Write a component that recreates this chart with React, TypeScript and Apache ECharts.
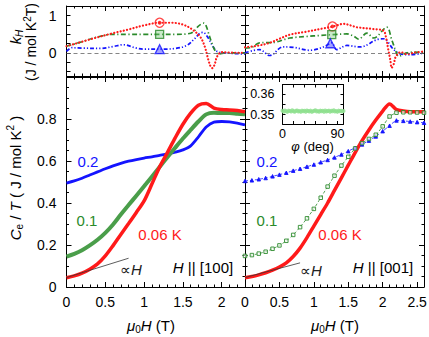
import React, { useEffect, useRef } from 'react';
import * as echarts from 'echarts';

const FONT = "'Liberation Sans', Arial, sans-serif";

// ---------- data ----------
const H100 = [0, 0.1, 0.2, 0.3, 0.4, 0.5, 0.6, 0.7, 0.8, 0.9, 1.0, 1.1, 1.2, 1.3, 1.4, 1.5, 1.6, 1.7, 1.8, 1.9, 2.0, 2.1, 2.2, 2.3];
const H001 = [0, 0.1, 0.2, 0.3, 0.4, 0.5, 0.6, 0.7, 0.8, 0.9, 1.0, 1.1, 1.2, 1.3, 1.4, 1.5, 1.6, 1.7, 1.8, 1.9, 2.0, 2.1, 2.2, 2.3, 2.4, 2.5, 2.6];

const cRed100 = [0.044, 0.053, 0.066, 0.085, 0.11, 0.148, 0.197, 0.25, 0.302, 0.355, 0.41, 0.49, 0.572, 0.64, 0.71, 0.775, 0.828, 0.866, 0.874, 0.852, 0.845, 0.843, 0.84, 0.835];
const cGreen100 = [0.145, 0.158, 0.175, 0.198, 0.225, 0.258, 0.298, 0.345, 0.39, 0.435, 0.48, 0.525, 0.572, 0.618, 0.663, 0.707, 0.748, 0.788, 0.822, 0.83, 0.828, 0.828, 0.825, 0.822];
const cBlue100 = [0.495, 0.505, 0.518, 0.533, 0.548, 0.563, 0.577, 0.589, 0.599, 0.607, 0.614, 0.62, 0.627, 0.634, 0.642, 0.653, 0.672, 0.715, 0.762, 0.785, 0.788, 0.786, 0.78, 0.772];

const cRed001 = [0.044, 0.05, 0.058, 0.068, 0.08, 0.095, 0.115, 0.145, 0.185, 0.235, 0.29, 0.345, 0.4, 0.46, 0.52, 0.58, 0.64, 0.697, 0.748, 0.795, 0.838, 0.872, 0.845, 0.838, 0.835, 0.835, 0.834];
const cGreen001 = [0.148, 0.152, 0.159, 0.168, 0.182, 0.198, 0.22, 0.248, 0.285, 0.327, 0.372, 0.425, 0.478, 0.53, 0.578, 0.62, 0.66, 0.685, 0.705, 0.725, 0.765, 0.812, 0.83, 0.832, 0.832, 0.831, 0.83];
const cBlue001 = [0.505, 0.508, 0.513, 0.519, 0.527, 0.535, 0.544, 0.554, 0.563, 0.573, 0.583, 0.594, 0.605, 0.617, 0.631, 0.647, 0.663, 0.679, 0.697, 0.717, 0.742, 0.768, 0.793, 0.791, 0.788, 0.785, 0.782];

const kRed100 = [[0, 0.18], [0.1, 0.24], [0.2, 0.3], [0.4, 0.42], [0.6, 0.53], [0.8, 0.63], [1.0, 0.74], [1.2, 0.81], [1.35, 0.81], [1.42, 0.8], [1.5, 0.76], [1.6, 0.66], [1.72, 0.44], [1.78, 0.18], [1.83, -0.2], [1.86, -0.38], [1.88, -0.41], [1.91, -0.3], [1.94, -0.1], [2.0, 0.02], [2.1, 0.01], [2.2, 0], [2.3, 0]];
const kGreen100 = [[0, 0.18], [0.2, 0.3], [0.4, 0.43], [0.6, 0.5], [0.8, 0.5], [1.0, 0.5], [1.2, 0.5], [1.4, 0.5], [1.55, 0.51], [1.63, 0.56], [1.69, 0.7], [1.74, 0.78], [1.77, 0.8], [1.8, 0.72], [1.83, 0.53], [1.87, 0.28], [1.91, 0.08], [1.96, -0.03], [2.05, 0], [2.2, 0], [2.3, 0]];
const kBlue100 = [[0, 0.04], [0.07, 0.14], [0.2, 0.13], [0.43, 0.12], [0.6, 0.17], [0.73, 0.22], [0.9, 0.13], [1.0, 0.1], [1.2, 0.1], [1.4, 0.12], [1.55, 0.2], [1.65, 0.38], [1.72, 0.53], [1.76, 0.55], [1.82, 0.42], [1.88, 0.2], [1.94, 0.04], [2.05, 0], [2.2, -0.02], [2.3, -0.03]];

const kRed001 = [[0, 0.15], [0.2, 0.2], [0.36, 0.27], [0.5, 0.38], [0.65, 0.49], [0.89, 0.57], [1.14, 0.66], [1.3, 0.72], [1.43, 0.78], [1.55, 0.73], [1.62, 0.69], [1.87, 0.64], [2.01, 0.6], [2.05, 0.4], [2.08, 0.1], [2.11, -0.18], [2.13, -0.4], [2.16, -0.3], [2.19, -0.1], [2.26, 0.02], [2.35, -0.03], [2.45, 0], [2.6, 0.04]];
const kGreen001 = [[0, 0.13], [0.1, 0.15], [0.21, 0.27], [0.41, 0.28], [0.65, 0.4], [0.89, 0.44], [1.1, 0.47], [1.26, 0.49], [1.48, 0.51], [1.58, 0.45], [1.65, 0.37], [1.77, 0.53], [1.87, 0.4], [2.06, 0.69], [2.13, 0.36], [2.2, 0], [2.23, -0.09], [2.35, 0], [2.45, 0.02], [2.6, 0]];
const kBlue001 = [[0, 0], [0.21, 0.09], [0.36, -0.07], [0.55, 0.16], [0.7, 0.15], [0.94, 0.07], [1.14, 0.16], [1.26, 0.27], [1.33, 0.09], [1.48, 0.2], [1.67, 0.16], [1.92, 0.36], [2.01, 0.38], [2.16, 0.09], [2.26, -0.03], [2.4, -0.05], [2.6, 0]];

const markRed100 = [[1.2, 0.81]];
const markGreen100 = [[1.2, 0.5]];
const markBlue100 = [[1.2, 0.1]];
const markRed001 = [[1.27, 0.71]];
const markGreen001 = [[1.26, 0.49]];
const markBlue001 = [[1.24, 0.26]];

const prop100 = [[0, 0.045], [0.8, 0.137]];
const prop001 = [[0, 0.045], [0.8, 0.115]];

const insetPhi = [0, 2, 4, 6, 8, 10, 12, 14, 16, 18, 20, 22, 24, 26, 28, 30, 32, 34, 36, 38, 40, 42, 44, 46, 48, 50, 52, 54, 56, 58, 60, 62, 64, 66, 68, 70, 72, 74, 76, 78, 80, 82, 84, 86, 88, 90, 92, 94, 96, 98, 100];
const insetC = [0.3518, 0.3514, 0.352, 0.3516, 0.3513, 0.3519, 0.3517, 0.3515, 0.3521, 0.3516, 0.3514, 0.3518, 0.352, 0.3515, 0.3517, 0.3513, 0.3519, 0.3516, 0.3518, 0.3514, 0.352, 0.3517, 0.3515, 0.3519, 0.3513, 0.3516, 0.3518, 0.3521, 0.3515, 0.3517, 0.3514, 0.3519, 0.3516, 0.3518, 0.3513, 0.352, 0.3515, 0.3517, 0.3519, 0.3514, 0.3518, 0.3516, 0.3521, 0.3515, 0.3517, 0.3513, 0.3519, 0.3516, 0.3518, 0.3515, 0.3517];

// tick positions
const xMajor100 = [0, 0.5, 1, 1.5, 2];
const xMinor100 = [0.1, 0.2, 0.3, 0.4, 0.6, 0.7, 0.8, 0.9, 1.1, 1.2, 1.3, 1.4, 1.6, 1.7, 1.8, 1.9, 2.1, 2.2];
const xMajor001 = [0, 0.5, 1, 1.5, 2, 2.5];
const xMinor001 = [0.1, 0.2, 0.3, 0.4, 0.6, 0.7, 0.8, 0.9, 1.1, 1.2, 1.3, 1.4, 1.6, 1.7, 1.8, 1.9, 2.1, 2.2, 2.3, 2.4];
const kTicks = [-0.5, -0.25, 0, 0.25, 0.5, 0.75, 1, 1.25];
const kLabels = [0, 1];
const insetXTicks = [0, 18, 36, 54, 72, 90];
const insetXLabels = [0, 90];
const insetYTicks = [0.35, 0.355, 0.36];
const insetYLabels = [0.35, 0.36];

// ---------- helpers ----------
const BLACK = '#000';
const RED = '#ff1a1a';
const GREEN = '#2a8a2a';
const BLUE = '#1414ff';

const zip = (xs: number[], ys: number[]) => xs.map((x, i) => [x, ys[i]]);

function xAxesFor(grid: number, max: number, majors: number[], minors: number[], labels: boolean) {
  const base = { type: 'value', gridIndex: grid, min: 0, max, splitLine: { show: false } };
  const line = { show: true, onZero: false, lineStyle: { color: BLACK, width: 1 } };
  const lbl = { show: labels, customValues: majors, margin: 8, fontSize: 14, color: BLACK, fontFamily: FONT };
  return [
    { ...base, position: 'bottom', axisLine: line, axisTick: { show: true, inside: true, length: 5, customValues: majors, lineStyle: { color: BLACK } }, axisLabel: lbl },
    { ...base, position: 'bottom', axisLine: { show: false, onZero: false }, axisTick: { show: true, inside: true, length: 2.5, customValues: minors, lineStyle: { color: BLACK } }, axisLabel: { show: false } },
    { ...base, position: 'top', axisLine: line, axisTick: { show: true, inside: true, length: 5, customValues: majors, lineStyle: { color: BLACK } }, axisLabel: { show: false } },
    { ...base, position: 'top', axisLine: { show: false, onZero: false }, axisTick: { show: true, inside: true, length: 2.5, customValues: minors, lineStyle: { color: BLACK } }, axisLabel: { show: false } },
  ];
}

function yBottom(grid: number, labels: boolean) {
  const mk = (pos: string, lab: boolean) => ({
    type: 'value', gridIndex: grid, min: 0, max: 1, interval: 0.2, position: pos,
    axisLine: { show: true, onZero: false, lineStyle: { color: BLACK, width: 1 } },
    axisTick: { show: true, inside: true, length: 5, lineStyle: { color: BLACK } },
    minorTick: { show: true, splitNumber: 4, length: 2.5, lineStyle: { color: BLACK } },
    axisLabel: { show: lab, showMaxLabel: false, margin: 10, fontSize: 14, color: BLACK, fontFamily: FONT },
    splitLine: { show: false }, minorSplitLine: { show: false },
  });
  return [mk('left', labels), mk('right', false)];
}

function yTop(grid: number, labels: boolean) {
  const mk = (pos: string, lab: boolean) => ({
    type: 'value', gridIndex: grid, min: -0.62, max: 1.26, position: pos,
    axisLine: { show: true, onZero: false, lineStyle: { color: BLACK, width: 1 } },
    axisTick: { show: true, inside: true, length: 4, customValues: kTicks, lineStyle: { color: BLACK } },
    axisLabel: { show: lab, customValues: kLabels, margin: 10, fontSize: 14, color: BLACK, fontFamily: FONT },
    splitLine: { show: false },
  });
  return [mk('left', labels), mk('right', false)];
}

function kLine(data: number[][], grid: number, color: string, dash: number[], cap: string, width: number, zero: boolean) {
  const s: any = {
    type: 'line', xAxisIndex: grid * 4, yAxisIndex: grid * 2, data, smooth: 0.35, symbol: 'none',
    lineStyle: { color, width, type: dash, cap }, z: 3,
  };
  if (zero) {
    s.markLine = {
      silent: true, symbol: 'none', label: { show: false },
      lineStyle: { color: '#666', width: 0.8, type: [4, 3] },
      data: [{ yAxis: 0 }],
    };
  }
  return s;
}

function marker(data: number[][], grid: number, symbol: string, size: number, color: string, fill: string) {
  return {
    type: 'scatter', xAxisIndex: grid * 4, yAxisIndex: grid * 2, data, symbol, symbolSize: size,
    itemStyle: { color: fill, borderColor: color, borderWidth: 1.3 }, z: 5,
  };
}

function dense(data: number[][], grid: number, color: string, width: number) {
  return {
    type: 'line', xAxisIndex: grid * 4, yAxisIndex: grid * 2, data, smooth: 0.3, symbol: 'none',
    lineStyle: { color, width }, z: 3,
  };
}

function sparse(data: number[][], grid: number, color: string, symbol: string, size: number, fill: string) {
  return {
    type: 'line', xAxisIndex: grid * 4, yAxisIndex: grid * 2, data, smooth: 0.2, symbol, symbolSize: size,
    showSymbol: true, showAllSymbol: true,
    lineStyle: { color, width: 0.8, type: [3, 2] },
    itemStyle: { color: fill, borderColor: color, borderWidth: 0.9 }, z: 3,
  };
}

function richStyle(size: number, color: string) {
  const sub = Math.round(size * 0.68);
  return {
    n: { fontSize: size, fontFamily: FONT, fill: color, color, lineHeight: size + 4 },
    i: { fontSize: size, fontFamily: FONT, fontStyle: 'italic', fill: color, color, lineHeight: size + 4 },
    sub: { fontSize: sub, fontFamily: FONT, fill: color, color, verticalAlign: 'bottom', lineHeight: sub },
    isub: { fontSize: sub, fontFamily: FONT, fontStyle: 'italic', fill: color, color, verticalAlign: 'bottom', lineHeight: sub },
    sup: { fontSize: sub, fontFamily: FONT, fill: color, color, verticalAlign: 'top', lineHeight: sub },
  };
}

function txt(text: string, x: number, y: number, size: number, color: string, rotation = 0) {
  return {
    type: 'text', x, y, rotation, z: 10,
    style: {
      text, rich: richStyle(size, color), fill: color, fontSize: size, fontFamily: FONT,
      align: 'center', verticalAlign: 'middle', textAlign: 'center', textVerticalAlign: 'middle',
    },
  };
}

export default function App() {
  const ref = useRef<HTMLDivElement>(null);
  useEffect(() => {
    if (!ref.current) return;
    const chart = echarts.init(ref.current, undefined, { renderer: 'svg' });

    const grids = [
      { left: 66.5, top: 6, width: 178.5, height: 70 },
      { left: 245, top: 6, width: 179, height: 70 },
      { left: 66.5, top: 77, width: 178.5, height: 210 },
      { left: 245, top: 77, width: 179, height: 210 },
      { left: 282.5, top: 84.5, width: 61, height: 39.5 },
    ].map((g) => ({ ...g, containLabel: false, outerBoundsMode: 'none' }));

    const insetX = [
      { type: 'value', gridIndex: 4, min: 0, max: 100, position: 'bottom', splitLine: { show: false },
        axisLine: { show: true, onZero: false, lineStyle: { color: BLACK, width: 1 } },
        axisTick: { show: true, inside: true, length: 3, customValues: insetXTicks, lineStyle: { color: BLACK } },
        axisLabel: { show: true, customValues: insetXLabels, margin: 3, fontSize: 12.5, color: BLACK, fontFamily: FONT } },
      { type: 'value', gridIndex: 4, min: 0, max: 100, position: 'top', splitLine: { show: false },
        axisLine: { show: true, onZero: false, lineStyle: { color: BLACK, width: 1 } },
        axisTick: { show: true, inside: true, length: 3, customValues: insetXTicks, lineStyle: { color: BLACK } },
        axisLabel: { show: false } },
    ];
    const insetY = [
      { type: 'value', gridIndex: 4, min: 0.3454, max: 0.3646, position: 'left', splitLine: { show: false },
        axisLine: { show: true, onZero: false, lineStyle: { color: BLACK, width: 1 } },
        axisTick: { show: true, inside: true, length: 3, customValues: insetYTicks, lineStyle: { color: BLACK } },
        axisLabel: { show: true, customValues: insetYLabels, margin: 8, fontSize: 12.5, color: BLACK, fontFamily: FONT } },
      { type: 'value', gridIndex: 4, min: 0.3454, max: 0.3646, position: 'right', splitLine: { show: false },
        axisLine: { show: true, onZero: false, lineStyle: { color: BLACK, width: 1 } },
        axisTick: { show: true, inside: true, length: 3, customValues: insetYTicks, lineStyle: { color: BLACK } },
        axisLabel: { show: false } },
    ];

    const xAxis = [
      ...xAxesFor(0, 2.3, xMajor100, xMinor100, false),
      ...xAxesFor(1, 2.6, xMajor001, xMinor001, false),
      ...xAxesFor(2, 2.3, xMajor100, xMinor100, true),
      ...xAxesFor(3, 2.6, xMajor001, xMinor001, true),
      ...insetX,
    ];
    const yAxis = [...yTop(0, true), ...yTop(1, false), ...yBottom(2, true), ...yBottom(3, false), ...insetY];

    const series: any[] = [
      // top left
      kLine(kBlue100, 0, BLUE, [4, 2, 1.2, 2, 1.2, 2], 'butt', 1.7, false),
      kLine(kGreen100, 0, GREEN, [5, 2.5, 1.2, 2.5], 'butt', 1.7, false),
      kLine(kRed100, 0, RED, [0.1, 3.2], 'round', 2.2, true),
      marker(markRed100, 0, 'circle', 9, RED, 'rgba(255,255,255,0)'),
      marker(markRed100, 0, 'circle', 2.5, RED, RED),
      marker(markGreen100, 0, 'rect', 8, GREEN, 'rgba(120,200,120,0.5)'),
      marker(markBlue100, 0, 'triangle', 9, BLUE, 'rgba(60,60,255,0.6)'),
      // top right
      kLine(kBlue001, 1, BLUE, [4, 2, 1.2, 2, 1.2, 2], 'butt', 1.7, false),
      kLine(kGreen001, 1, GREEN, [5, 2.5, 1.2, 2.5], 'butt', 1.7, false),
      kLine(kRed001, 1, RED, [0.1, 3.2], 'round', 2.2, true),
      marker(markRed001, 1, 'circle', 9, RED, 'rgba(255,255,255,0)'),
      marker(markRed001, 1, 'circle', 2.5, RED, RED),
      marker(markGreen001, 1, 'rect', 8, GREEN, 'rgba(120,200,120,0.5)'),
      marker(markBlue001, 1, 'triangle', 9, BLUE, 'rgba(60,60,255,0.6)'),
      // bottom left
      dense(zip(H100, cBlue100), 2, BLUE, 2.8),
      dense(zip(H100, cGreen100), 2, '#4a9e4a', 4),
      dense(zip(H100, cRed100), 2, RED, 3.5),
      { type: 'line', xAxisIndex: 8, yAxisIndex: 4, data: prop100, symbol: 'none', lineStyle: { color: '#333', width: 0.8 }, z: 4 },
      // bottom right
      sparse(zip(H001, cBlue001), 3, BLUE, 'triangle', 3.5, BLUE),
      sparse(zip(H001, cGreen001), 3, '#2e8b2e', 'rect', 3.5, 'rgba(255,255,255,0.6)'),
      dense(zip(H001, cRed001), 3, RED, 3.5),
      { type: 'line', xAxisIndex: 12, yAxisIndex: 6, data: prop001, symbol: 'none', lineStyle: { color: '#333', width: 0.8 }, z: 4 },
      // inset
      { type: 'scatter', xAxisIndex: 16, yAxisIndex: 8, data: zip(insetPhi, insetC), symbol: 'circle', symbolSize: 4,
        itemStyle: { color: '#8fe08f' }, z: 3 },
    ];

    const graphic = [
      txt('{i|k}{isub|H}', 15, 37, 15, BLACK, Math.PI / 2),
      txt('{n|(J / mol K}{sup|2}{n|T)}', 31, 42, 14, BLACK, Math.PI / 2),
      txt('{i|C}{sub|e}{n| / }{i|T}{n| ( J / mol K}{sup|2}{n| )}', 15, 178, 15, BLACK, Math.PI / 2),
      txt('{i|μ}{sub|0}{i|H}{n| (T)}', 151, 325, 15, BLACK),
      txt('{i|μ}{sub|0}{i|H}{n| (T)}', 335, 325, 15, BLACK),
      txt('{n|0.2}', 88, 161, 15, BLUE),
      txt('{n|0.1}', 87, 220.5, 15, GREEN),
      txt('{n|0.06 K}', 160, 234, 15, RED),
      txt('{n|∝}{i|H}', 131, 269, 15, '#222'),
      txt('{i|H}{n| || [100]}', 203, 267, 15, BLACK),
      txt('{n|0.2}', 267, 161.5, 15, BLUE),
      txt('{n|0.1}', 267, 220.5, 15, GREEN),
      txt('{n|0.06 K}', 340, 234, 15, RED),
      txt('{n|∝}{i|H}', 311, 270, 15, '#222'),
      txt('{i|H}{n| || [001]}', 383, 267, 15, BLACK),
      txt('{i|φ}{n| (deg)}', 312.5, 146, 13, BLACK),
    ];

    chart.setOption({
      animation: false,
      backgroundColor: '#fff',
      grid: grids,
      xAxis,
      yAxis,
      series,
      graphic,
    });
    return () => chart.dispose();
  }, []);

  return <div ref={ref} style={{ position: 'fixed', left: 0, top: 0, width: 429, height: 337 }} />;
}
